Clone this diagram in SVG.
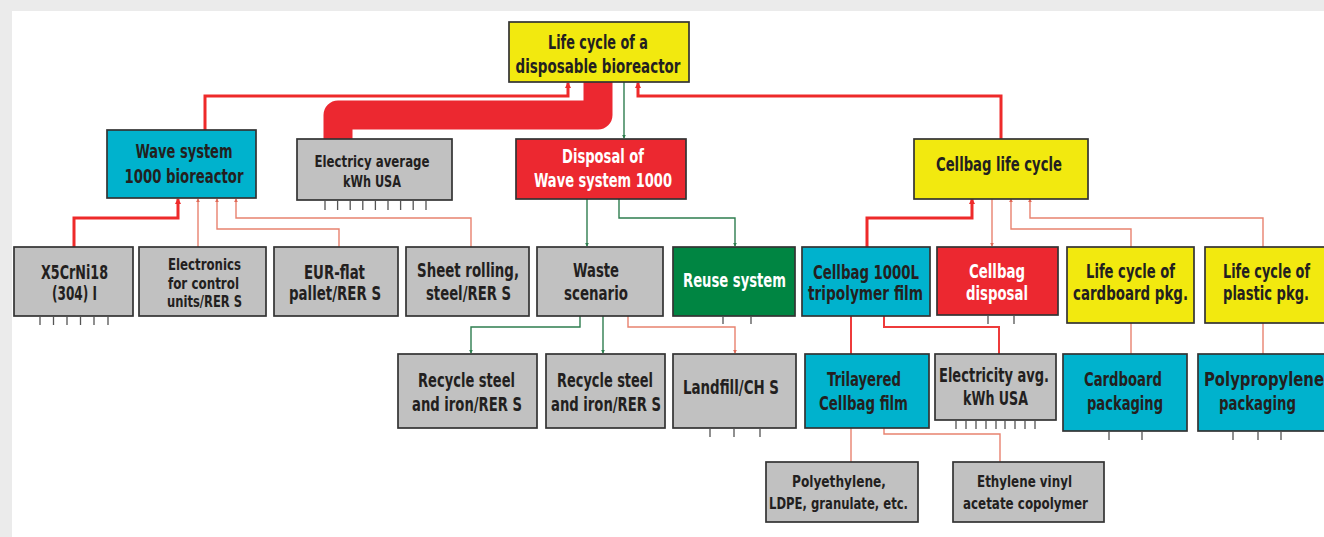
<svg xmlns="http://www.w3.org/2000/svg" width="1324" height="537" viewBox="0 0 1324 537">
<style>
.box{stroke:#333333;stroke-width:1.7}
.yel{fill:#f2e90f}.cy{fill:#00b2cd}.rd{fill:#ec2830}.gr{fill:#c1c1c1}.gn{fill:#008542}
text{font-family:"Liberation Sans Narrow","DejaVu Sans Condensed","Liberation Sans",sans-serif;font-weight:bold;fill:#231f20;text-anchor:middle;font-size:19px}
text.w{fill:#ffffff}
text.s{font-size:16px}
.tick{stroke:#555;stroke-width:1.3}
.cR{fill:none;stroke:#ee2a2a;stroke-width:3}
.cM{fill:none;stroke:#ee3b3b;stroke-width:2}
.cS{fill:none;stroke:#e8826f;stroke-width:1.4}
.cG{fill:none;stroke:#2e7d4f;stroke-width:1.4}
</style>
<defs>
<marker id="aR" viewBox="0 0 6 6" refX="5" refY="3" markerWidth="6" markerHeight="6" markerUnits="userSpaceOnUse" orient="auto"><path d="M0,0 L6,3 L0,6 z" fill="#ee2a2a"/></marker>
<marker id="aS" viewBox="0 0 6 6" refX="5" refY="3" markerWidth="4" markerHeight="4" markerUnits="userSpaceOnUse" orient="auto"><path d="M0,0 L6,3 L0,6 z" fill="#e06a58"/></marker>
<marker id="aG" viewBox="0 0 6 6" refX="5" refY="3" markerWidth="4" markerHeight="4" markerUnits="userSpaceOnUse" orient="auto"><path d="M0,0 L6,3 L0,6 z" fill="#2e7d4f"/></marker>
</defs>
<rect x="0" y="0" width="1324" height="537" fill="#ebebeb"/>
<rect x="12" y="11" width="1312" height="526" fill="#ffffff"/>

<g id="connectors">
<path d="M338,139 V115 H598 V82" fill="none" stroke="#ec2830" stroke-width="29" stroke-linejoin="round"/>
<path class="cR" d="M205,130 V96 H568 V83" marker-end="url(#aR)"/>
<path class="cR" d="M1001,139 V96 H638 V83" marker-end="url(#aR)"/>
<path class="cG" d="M624,82 V138" marker-end="url(#aG)"/>
<path class="cR" d="M74,247 V218 H178 V199" marker-end="url(#aR)"/>
<path class="cS" d="M198,247 V199" marker-end="url(#aS)"/>
<path class="cS" d="M339,247 V229 H217 V199" marker-end="url(#aS)"/>
<path class="cS" d="M471,247 V218 H236 V199" marker-end="url(#aS)"/>
<path class="cG" d="M587,199 V246" marker-end="url(#aG)"/>
<path class="cG" d="M619,199 V218 H735 V246" marker-end="url(#aG)"/>
<path class="cR" d="M867,247 V218 H972 V199" marker-end="url(#aR)"/>
<path class="cS" d="M992,199 V246" marker-end="url(#aS)"/>
<path class="cS" d="M1131,247 V229 H1011 V199" marker-end="url(#aS)"/>
<path class="cS" d="M1263,247 V218 H1030 V199" marker-end="url(#aS)"/>
<path class="cG" d="M580,316 V327 H471 V353" marker-end="url(#aG)"/>
<path class="cG" d="M603,316 V353" marker-end="url(#aG)"/>
<path class="cS" d="M628,316 V327 H735 V353" marker-end="url(#aS)"/>
<path class="cM" d="M851,316 V354"/>
<path class="cM" d="M884,316 V327 H999 V354"/>
<path class="cS" d="M1131,323 V354"/>
<path class="cS" d="M1263,323 V354"/>
<path class="cS" d="M851,428 V462"/>
<path class="cS" d="M884,428 V434 H1000 V462"/>
</g>

<g id="root"><rect class="box yel" x="509" y="22" width="180" height="60"/>
<text x="598" y="49" textLength="100" lengthAdjust="spacingAndGlyphs" style="font-size:20px">Life cycle of a</text>
<text x="598" y="73" textLength="165" lengthAdjust="spacingAndGlyphs" style="font-size:20px">disposable bioreactor</text></g>

<g id="wave"><rect class="box cy" x="107" y="130" width="149" height="68"/>
<text x="184" y="158" textLength="97" lengthAdjust="spacingAndGlyphs">Wave system</text>
<text x="184" y="183" textLength="119" lengthAdjust="spacingAndGlyphs">1000 bioreactor</text></g>

<g id="electricy"><rect class="box gr" x="297" y="139" width="155" height="61"/>
<text class="s" x="372" y="167" textLength="115" lengthAdjust="spacingAndGlyphs">Electricy average</text>
<text class="s" x="372" y="187" textLength="58" lengthAdjust="spacingAndGlyphs">kWh USA</text>
<path class="tick" d="M325,201v9M337.6,201v9M350.2,201v9M362.8,201v9M375.4,201v9M388,201v9M400.6,201v9M413.2,201v9M426,201v9"/></g>

<g id="disposal"><rect class="box rd" x="516" y="139" width="170" height="60"/>
<text class="w" x="603" y="163" textLength="82" lengthAdjust="spacingAndGlyphs">Disposal of</text>
<text class="w" x="603" y="187" textLength="138" lengthAdjust="spacingAndGlyphs">Wave system 1000</text></g>

<g id="cellbaglc"><rect class="box yel" x="914" y="139" width="174" height="60"/>
<text x="999" y="171" textLength="126" lengthAdjust="spacingAndGlyphs">Cellbag life cycle</text></g>

<g id="x5"><rect class="box gr" x="14" y="247" width="119" height="69"/>
<text x="74.5" y="279" textLength="67" lengthAdjust="spacingAndGlyphs">X5CrNi18</text>
<text x="74.5" y="300" textLength="45" lengthAdjust="spacingAndGlyphs">(304) I</text>
<path class="tick" d="M40,317v8M53.5,317v8M67,317v8M80.5,317v8M94,317v8M108,317v8"/></g>

<g id="electronics"><rect class="box gr" x="139" y="247" width="127" height="69"/>
<text class="s" x="204.5" y="270" textLength="73" lengthAdjust="spacingAndGlyphs">Electronics</text>
<text class="s" x="203.5" y="289" textLength="71" lengthAdjust="spacingAndGlyphs">for control</text>
<text class="s" x="204.5" y="307" textLength="75" lengthAdjust="spacingAndGlyphs">units/RER S</text></g>

<g id="eur"><rect class="box gr" x="274" y="247" width="124" height="69"/>
<text x="334.5" y="279" textLength="61" lengthAdjust="spacingAndGlyphs">EUR-flat</text>
<text x="335" y="300" textLength="92" lengthAdjust="spacingAndGlyphs">pallet/RER S</text></g>

<g id="sheet"><rect class="box gr" x="406" y="247" width="123" height="69"/>
<text x="468" y="277" textLength="102" lengthAdjust="spacingAndGlyphs">Sheet rolling,</text>
<text x="468.5" y="300" textLength="85" lengthAdjust="spacingAndGlyphs">steel/RER S</text></g>

<g id="waste"><rect class="box gr" x="537" y="247" width="126" height="69"/>
<text x="596" y="277" textLength="46" lengthAdjust="spacingAndGlyphs">Waste</text>
<text x="596" y="300" textLength="64" lengthAdjust="spacingAndGlyphs">scenario</text></g>

<g id="reuse"><rect class="box gn" x="673" y="247" width="122" height="69"/>
<text class="w" x="734.5" y="287" textLength="103" lengthAdjust="spacingAndGlyphs">Reuse system</text>
<path class="tick" d="M723,317v7M751,317v7"/></g>

<g id="cellbag1000"><rect class="box cy" x="802" y="247" width="128" height="69"/>
<text x="866" y="279" textLength="106" lengthAdjust="spacingAndGlyphs">Cellbag 1000L</text>
<text x="865.5" y="300" textLength="115" lengthAdjust="spacingAndGlyphs">tripolymer film</text></g>

<g id="cellbagdisp"><rect class="box rd" x="937" y="247" width="121" height="68"/>
<text class="w" x="997" y="278" textLength="56" lengthAdjust="spacingAndGlyphs">Cellbag</text>
<text class="w" x="997" y="300" textLength="62" lengthAdjust="spacingAndGlyphs">disposal</text>
<path class="tick" d="M988,316v8M1014,316v8"/></g>

<g id="lccard"><rect class="box yel" x="1067" y="247" width="127" height="76"/>
<text x="1130.5" y="278" textLength="89" lengthAdjust="spacingAndGlyphs">Life cycle of</text>
<text x="1130.5" y="300" textLength="115" lengthAdjust="spacingAndGlyphs">cardboard pkg.</text></g>

<g id="lcplastic"><rect class="box yel" x="1205" y="247" width="121" height="76"/>
<text x="1266.5" y="278" textLength="87" lengthAdjust="spacingAndGlyphs">Life cycle of</text>
<text x="1266" y="300" textLength="86" lengthAdjust="spacingAndGlyphs">plastic pkg.</text></g>

<g id="recycle1"><rect class="box gr" x="398" y="354" width="139" height="74"/>
<text x="466.5" y="387" textLength="97" lengthAdjust="spacingAndGlyphs">Recycle steel</text>
<text x="467" y="411" textLength="110" lengthAdjust="spacingAndGlyphs">and iron/RER S</text></g>

<g id="recycle2"><rect class="box gr" x="546" y="354" width="119" height="74"/>
<text x="605" y="387" textLength="96" lengthAdjust="spacingAndGlyphs">Recycle steel</text>
<text x="606" y="411" textLength="110" lengthAdjust="spacingAndGlyphs">and iron/RER S</text></g>

<g id="landfill"><rect class="box gr" x="673" y="354" width="123" height="74"/>
<text x="731" y="394" textLength="96" lengthAdjust="spacingAndGlyphs">Landfill/CH S</text>
<path class="tick" d="M710,429v8M734,429v8M760,429v8"/></g>

<g id="trilayered"><rect class="box cy" x="805" y="354" width="124" height="74"/>
<text x="864" y="386" textLength="74" lengthAdjust="spacingAndGlyphs">Trilayered</text>
<text x="863.5" y="410" textLength="89" lengthAdjust="spacingAndGlyphs">Cellbag film</text></g>

<g id="elecavg"><rect class="box gr" x="935" y="354" width="121" height="66"/>
<text x="994" y="382" textLength="110" lengthAdjust="spacingAndGlyphs">Electricity avg.</text>
<text x="995.5" y="405" textLength="65" lengthAdjust="spacingAndGlyphs">kWh USA</text>
<path class="tick" d="M956,421v8M966,421v8M976,421v8M986,421v8M996,421v8M1005,421v8M1015,421v8M1025,421v8M1035,421v8"/></g>

<g id="cardboard"><rect class="box cy" x="1063" y="354" width="124" height="77"/>
<text x="1123" y="386" textLength="78" lengthAdjust="spacingAndGlyphs">Cardboard</text>
<text x="1125" y="410" textLength="76" lengthAdjust="spacingAndGlyphs">packaging</text>
<path class="tick" d="M1109,432v8M1142,432v8"/></g>

<g id="polyprop"><rect class="box cy" x="1198" y="354" width="128" height="77"/>
<text x="1264" y="386" textLength="120" lengthAdjust="spacingAndGlyphs">Polypropylene</text>
<text x="1257.5" y="410" textLength="77" lengthAdjust="spacingAndGlyphs">packaging</text>
<path class="tick" d="M1233,432v8M1258,432v8M1281,432v8"/></g>

<g id="polyethylene"><rect class="box gr" x="766" y="462" width="152" height="60"/>
<text class="s" x="839" y="487" textLength="94" lengthAdjust="spacingAndGlyphs">Polyethylene,</text>
<text class="s" x="838.5" y="509" textLength="139" lengthAdjust="spacingAndGlyphs">LDPE, granulate, etc.</text></g>

<g id="eva"><rect class="box gr" x="953" y="462" width="151" height="60"/>
<text class="s" x="1024.5" y="487" textLength="95" lengthAdjust="spacingAndGlyphs">Ethylene vinyl</text>
<text class="s" x="1025.5" y="509" textLength="125" lengthAdjust="spacingAndGlyphs">acetate copolymer</text></g>
</svg>
